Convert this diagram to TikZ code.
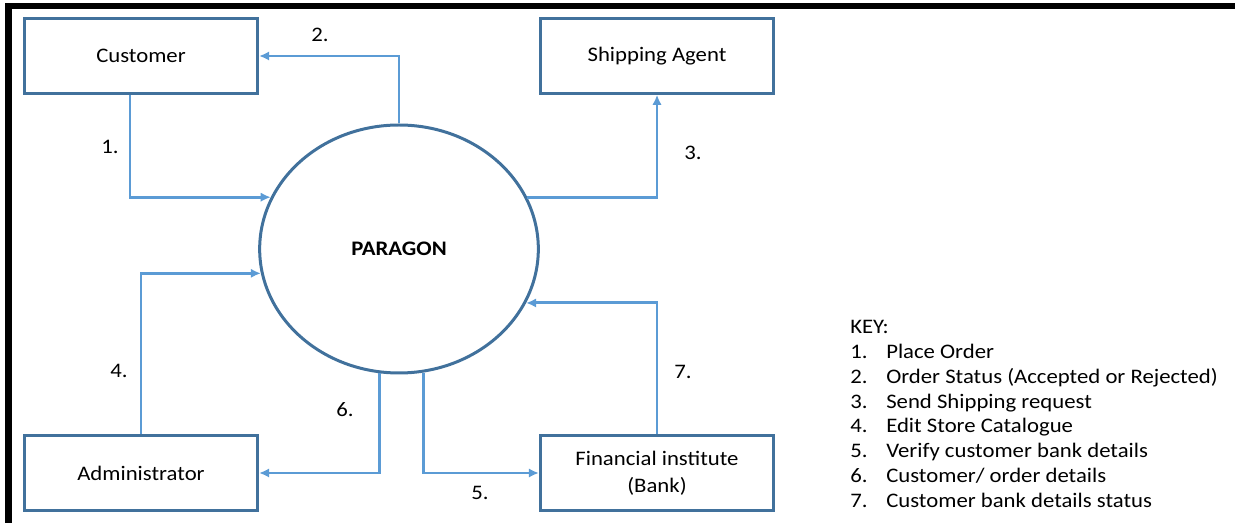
\documentclass[tikz,border=0pt]{standalone}
\usepackage{fontspec}
\setmainfont{Carlito}[FakeStretch=1.1]
\usetikzlibrary{arrows.meta,shapes.geometric}
\definecolor{boxblue}{RGB}{65,113,156}
\definecolor{flowblue}{RGB}{91,155,213}

\begin{document}
\begin{tikzpicture}[
    x=0.75pt, y=-0.75pt,
    every node/.style = {font=\fontsize{15.5}{20.5}\selectfont},
    entity/.style = {shape=rectangle, draw=boxblue, line width=2.25pt, minimum width=175pt, minimum height=56pt, align=center},
    system/.style = {shape=ellipse, draw=boxblue, line width=2.25pt, minimum width=209pt, minimum height=186pt, inner sep=0pt},
    flow/.style = {draw=flowblue, line width=2.2pt, -{Latex[length=7.5pt,width=7pt]}},
    num/.style = {inner sep=0pt}
    ]
    \useasboundingbox (0,0) rectangle (1235,523);
    % frame
    \fill (5,3) rectangle (1235,9);
    \fill (5,3) rectangle (12,523);

    % entities and the system
    \node[entity] (cust) at (141,56) {Customer};
    \node[entity] (ship) at (657,56) {Shipping Agent};
    \node[entity] (admin) at (141,473) {Administrator};
    \node[entity] (bank) at (657,473) {Financial institute\\(Bank)};
    \node[system] (para) at (399,249) {\textbf{PARAGON}};

    % data flows
    \draw[flow] ([xshift=-8.25pt]cust.south) |- (para.158);
    \draw[flow] (para.north) |- (cust.east);
    \draw[flow] (para.22) -| (ship.south);
    \draw[flow] (admin.north) |- (para.190);
    \draw[flow] (para.281) |- (bank.west);
    \draw[flow] (para.261) |- (admin.east);
    \draw[flow] (bank.north) |- (para.-23);

    % flow numbers
    \node[num] (n1) at (110,147) {1.};
    \node[num] (n2) at (320,35) {2.};
    \node[num] (n3) at (693,153) {3.};
    \node[num] (n4) at (119,371) {4.};
    \node[num] (n5) at (480,493) {5.};
    \node[num] (n6) at (345,410) {6.};
    \node[num] (n7) at (683,372) {7.};

    % key
    \node[anchor=north west, inner sep=0pt, font=\fontsize{15.5}{18.6}\selectfont] (key) at (850,316) {%
      \begin{tabular}{@{}p{27pt}@{}l@{}}
        \multicolumn{2}{@{}l@{}}{KEY:}\\
        1. & Place Order\\
        2. & Order Status (Accepted or Rejected)\\
        3. & Send Shipping request\\
        4. & Edit Store Catalogue\\
        5. & Verify customer bank details\\
        6. & Customer/ order details\\
        7. & Customer bank details status
      \end{tabular}};
\end{tikzpicture}
\end{document}
